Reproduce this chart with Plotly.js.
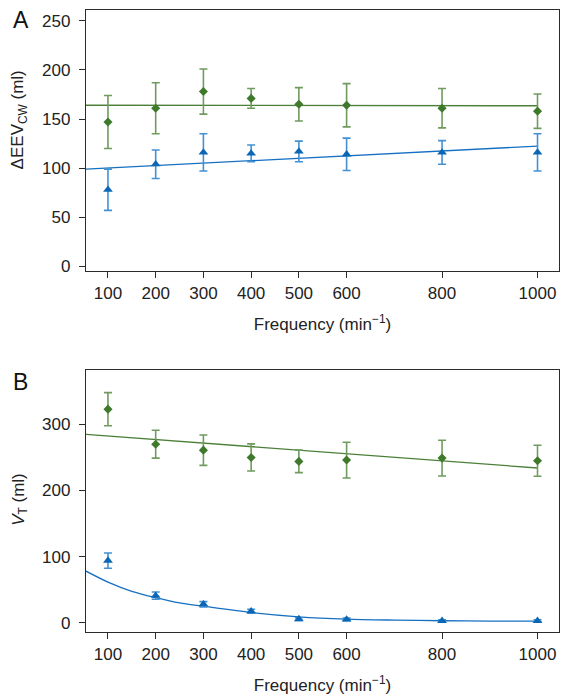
<!DOCTYPE html>
<html>
<head>
<meta charset="utf-8">
<script src="https://cdn.plot.ly/plotly-3.0.1.min.js"></script>
<style>html,body{margin:0;padding:0;background:#fff}#chart{width:562px;height:700px}</style>
</head>
<body>
<div id="chart"></div>
<script>
// ---- data ----
const freq = [100, 200, 300, 400, 500, 600, 800, 1000];
const tickFreq = [100, 200, 300, 400, 500, 600, 800, 1000];

// Panel A: ΔEEV_CW (ml)
const aGreen = [147, 161, 178, 171, 165, 164, 161, 158];
const aGreenErr = [27, 26, 23, 10, 17, 22, 20, 17.5];
const aBlue = [78, 104, 116, 115, 117, 114, 116, 116];
const aBlueErr = [21, 14.5, 19, 8.5, 10.5, 16.5, 12, 19];
const aGreenFitX = [54, 1000];
const aGreenFitY = [164, 163.5];
const aBlueFitX = [54, 1000];
const aBlueFitY = [99, 122.4];

// Panel B: V_T (ml)
const bGreen = [323, 270, 261, 250, 244, 246, 249, 245];
const bGreenErr = [25, 21, 23, 20.5, 17, 27, 27, 23.5];
const bBlue = [94, 41, 28, 17.5, 5.5, 5, 3, 3];
const bBlueErr = [11.5, 5.5, 4, 3, 2, 2, 1.5, 1.5];
const bGreenFitX = [54, 1000];
const bGreenFitY = [285, 234];
const bBlueFitX = [54, 100, 150, 200, 250, 300, 400, 500, 600, 700, 800, 900, 1000];
const bBlueFitY = [78, 61.5, 47.5, 38, 30, 25, 15.5, 9, 5.5, 4, 3, 2.5, 2.5];

// ---- styles ----
const GREEN = '#3f7a2c', GREEN_ERR = '#6f9b5f', GREEN_LINE = '#4c8039';
const BLUE = '#0b67b5', BLUE_ERR = '#4491d1', BLUE_LINE = '#1670c2';
const FONT = 'Liberation Sans, Arial, Helvetica, sans-serif';
const TXT = '#222';

function fit(x, y, color, xa, ya, shape) {
  return {x: x, y: y, mode: 'lines', line: {color: color, width: 1.3, shape: shape || 'linear', smoothing: 0.8},
          xaxis: xa, yaxis: ya, hoverinfo: 'skip', showlegend: false};
}
function pts(y, err, color, errColor, symbol, size, xa, ya) {
  return {x: freq, y: y, mode: 'markers', type: 'scatter', xaxis: xa, yaxis: ya, showlegend: false,
          marker: {symbol: symbol, size: size, color: color},
          error_y: {type: 'data', array: err, visible: true, color: errColor, thickness: 1.6, width: 4}};
}

const data = [
  fit(aGreenFitX, aGreenFitY, GREEN_LINE, 'x', 'y'),
  fit(aBlueFitX, aBlueFitY, BLUE_LINE, 'x', 'y'),
  pts(aGreen, aGreenErr, GREEN, GREEN_ERR, 'diamond', 7, 'x', 'y'),
  pts(aBlue, aBlueErr, BLUE, BLUE_ERR, 'triangle-up', 8.5, 'x', 'y'),
  fit(bGreenFitX, bGreenFitY, GREEN_LINE, 'x2', 'y2'),
  fit(bBlueFitX, bBlueFitY, BLUE_LINE, 'x2', 'y2', 'spline'),
  pts(bGreen, bGreenErr, GREEN, GREEN_ERR, 'diamond', 7, 'x2', 'y2'),
  pts(bBlue, bBlueErr, BLUE, BLUE_ERR, 'triangle-up', 8.5, 'x2', 'y2')
];

const axisCommon = {
  showline: true, mirror: true, linecolor: '#2b2b2b', linewidth: 1.2,
  ticks: 'outside', ticklen: 6, tickwidth: 1, tickcolor: '#2b2b2b',
  showgrid: false, zeroline: false,
  tickfont: {family: FONT, size: 17, color: TXT}
};
const xTitle = {text: 'Frequency (min<sup>−1</sup>)', font: {family: FONT, size: 17, color: TXT}, standoff: 16};

const layout = {
  width: 562, height: 700,
  margin: {l: 86, r: 3, t: 10, b: 68},
  paper_bgcolor: '#fff', plot_bgcolor: '#fff',
  showlegend: false,
  xaxis: Object.assign({}, axisCommon, {domain: [0, 1], range: [54, 1045], tickvals: tickFreq, anchor: 'y', title: xTitle}),
  yaxis: Object.assign({}, axisCommon, {domain: [0.58, 1], range: [-5, 261], tickvals: [0, 50, 100, 150, 200, 250], anchor: 'x', ticklabelstandoff: 5}),
  xaxis2: Object.assign({}, axisCommon, {domain: [0, 1], range: [54, 1045], tickvals: tickFreq, anchor: 'y2', title: xTitle}),
  yaxis2: Object.assign({}, axisCommon, {domain: [0, 0.421], range: [-14, 382], tickvals: [0, 100, 200, 300], anchor: 'x2', ticklabelstandoff: 5}),
  annotations: [
    {text: 'A', xref: 'paper', yref: 'paper', x: -0.158, y: 0.984, xanchor: 'left', yanchor: 'middle', showarrow: false,
     font: {family: FONT, size: 23, color: '#111'}},
    {text: 'B', xref: 'paper', yref: 'paper', x: -0.158, y: 0.402, xanchor: 'left', yanchor: 'middle', showarrow: false,
     font: {family: FONT, size: 23, color: '#111'}},
    {text: 'ΔEEV<sub>CW</sub> (ml)', xref: 'paper', yref: 'paper', x: -0.141, y: 0.823, xanchor: 'center', yanchor: 'middle',
     textangle: -90, showarrow: false, font: {family: FONT, size: 17, color: TXT}},
    {text: '<i>V</i><sub>T</sub> (ml)', xref: 'paper', yref: 'paper', x: -0.141, y: 0.213, xanchor: 'center', yanchor: 'middle',
     textangle: -90, showarrow: false, font: {family: FONT, size: 17, color: TXT}}
  ]
};

Plotly.newPlot('chart', data, layout, {staticPlot: true, displayModeBar: false});
</script>
</body>
</html>
